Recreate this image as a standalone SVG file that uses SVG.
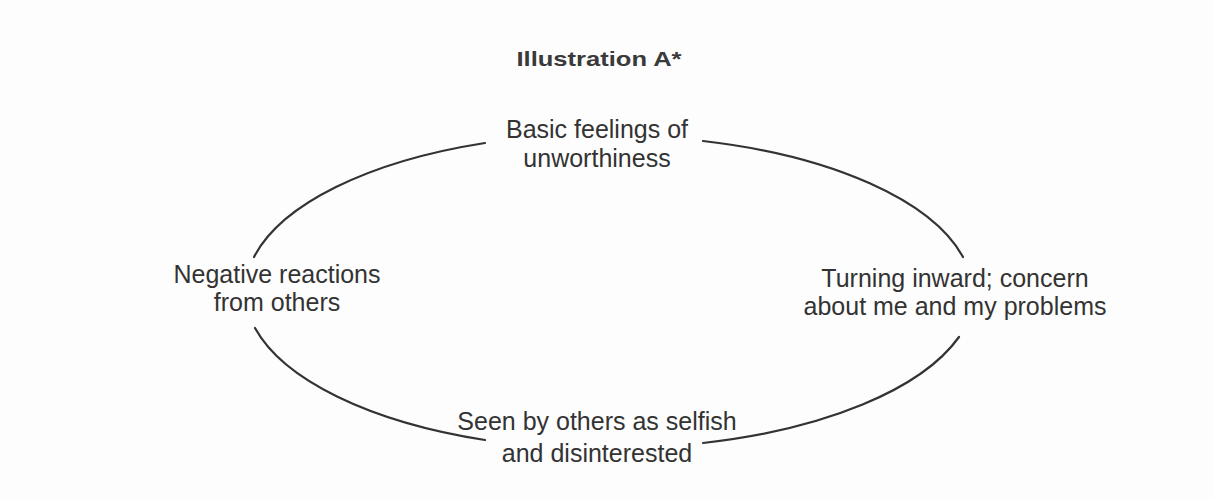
<svg xmlns="http://www.w3.org/2000/svg" width="1213" height="499" viewBox="0 0 1213 499">
<style>
.lbl{font-family:"Liberation Sans",Arial,sans-serif;font-size:25px;fill:#333;text-anchor:middle}
.ttl{font-family:"Liberation Sans",Arial,sans-serif;font-size:21px;font-weight:bold;fill:#3a3a3a;text-anchor:middle}
.arc{fill:none;stroke:#333;stroke-width:2.2;stroke-linecap:round}
</style>
<rect width="1213" height="499" fill="#fdfdfd"/>
<text class="ttl" x="599" y="66" textLength="165" lengthAdjust="spacingAndGlyphs">Illustration A*</text>
<g id="connectors">
<path class="arc" d="M254 257 A362 158 0 0 1 485 143"/>
<path class="arc" d="M703 141 A362 158 0 0 1 963 257"/>
<path class="arc" d="M959 337 A362 158 0 0 1 703 443"/>
<path class="arc" d="M485 440 A362 158 0 0 1 255 328"/>
</g>
<g id="node-top">
<text class="lbl" x="597" y="138">Basic feelings of</text>
<text class="lbl" x="597" y="167">unworthiness</text>
</g>
<g id="node-right">
<text class="lbl" x="955" y="287">Turning inward; concern</text>
<text class="lbl" x="955" y="315">about me and my problems</text>
</g>
<g id="node-bottom">
<text class="lbl" x="597" y="430">Seen by others as selfish</text>
<text class="lbl" x="597" y="462">and disinterested</text>
</g>
<g id="node-left">
<text class="lbl" x="277" y="283">Negative reactions</text>
<text class="lbl" x="277" y="311">from others</text>
</g>
</svg>
